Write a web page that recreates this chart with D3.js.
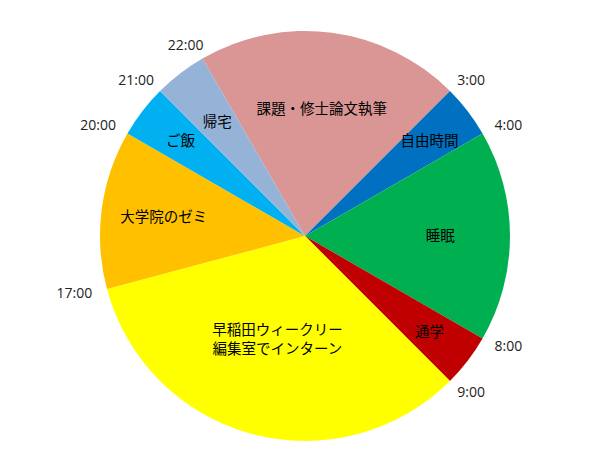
<!DOCTYPE html>
<html>
<head>
<meta charset="utf-8">
<script src="https://cdn.jsdelivr.net/npm/d3@7"></script>
<style>
  body { margin: 0; background: #fff; }
</style>
</head>
<body>
<div id="chart"></div>
<script>
// one day, clockwise from 22:00
const activities = ["課題・修士論文執筆", "自由時間", "睡眠", "通学",
    "早稲田ウィークリー\n編集室でインターン", "大学院のゼミ", "ご飯", "帰宅"];
const hours = [5, 1, 4, 1, 8, 3, 1, 1];
const sliceColors = ["#D99694", "#0070C0", "#00B050", "#C00000",
    "#FFFF00", "#FFC000", "#00B0F0", "#95B3D7"];
const tickHours = [3, 4, 8, 9, 17, 20, 21, 22];
const startHour = 22;

const width = 610, height = 467, radius = 205;
const cx = 305, cy = 236;

const svg = d3.select("#chart")
    .append("svg")
    .attr("width", width)
    .attr("height", height)
    .append("g")
    .attr("transform", `translate(${cx},${cy})`);

// clock: 0:00 at the top, 15 degrees per hour
const timeAngle = d3.scaleLinear().domain([0, 24]).range([0, Math.PI * 2]);
const start = timeAngle(startHour) - Math.PI * 2;

const data = activities.map((a, i) => ({ name: a, hours: hours[i], color: sliceColors[i] }));

const pie = d3.pie()
    .sort(null)
    .value(d => d.hours)
    .startAngle(start)
    .endAngle(start + Math.PI * 2);

const arc = d3.arc().innerRadius(0).outerRadius(radius);

const arcs = pie(data);

svg.selectAll(".slice")
    .data(arcs)
    .enter()
    .append("path")
    .attr("class", "slice")
    .attr("d", arc)
    .attr("fill", d => d.data.color);

// label distance: small slices sit further out
function labelRadius(d) {
    if (d.data.name === "帰宅") return 144;
    return radius * (0.8 - 0.035 * d.data.hours);
}

const labels = svg.selectAll(".slice-label")
    .data(arcs)
    .enter()
    .append("text")
    .attr("class", "slice-label")
    .attr("font-family", "'Noto Sans CJK JP', sans-serif")
    .attr("font-size", "14.5px")
    .attr("fill", "#000")
    .attr("text-anchor", "middle")
    .attr("transform", d => {
        const a = (d.startAngle + d.endAngle) / 2;
        const r = labelRadius(d);
        return `translate(${r * Math.sin(a)},${-r * Math.cos(a)})`;
    });

labels.each(function (d) {
    const lines = d.data.name.split("\n");
    const lineH = 19;
    d3.select(this).selectAll("tspan")
        .data(lines)
        .enter()
        .append("tspan")
        .attr("x", 0)
        .attr("y", (l, i) => (i - (lines.length - 1) / 2) * lineH)
        .attr("dy", "0.35em")
        .text(l => l);
});

// hour labels at slice boundaries
const tickR = radius + 16;
svg.selectAll(".hour-label")
    .data(tickHours)
    .enter()
    .append("text")
    .attr("class", "hour-label")
    .attr("font-family", "'Open Sans', sans-serif")
    .attr("font-size", "14px")
    .attr("fill", "#222")
    .attr("dy", "0.35em")
    .text(h => `${h}:00`)
    .each(function (h) {
        const a = timeAngle(h);
        const w = this.getComputedTextLength();
        const x = tickR * Math.sin(a) - w * (0.5 - 0.5 * Math.sin(a));
        const y = -tickR * Math.cos(a);
        d3.select(this).attr("x", x).attr("y", y);
    });
</script>
</body>
</html>
